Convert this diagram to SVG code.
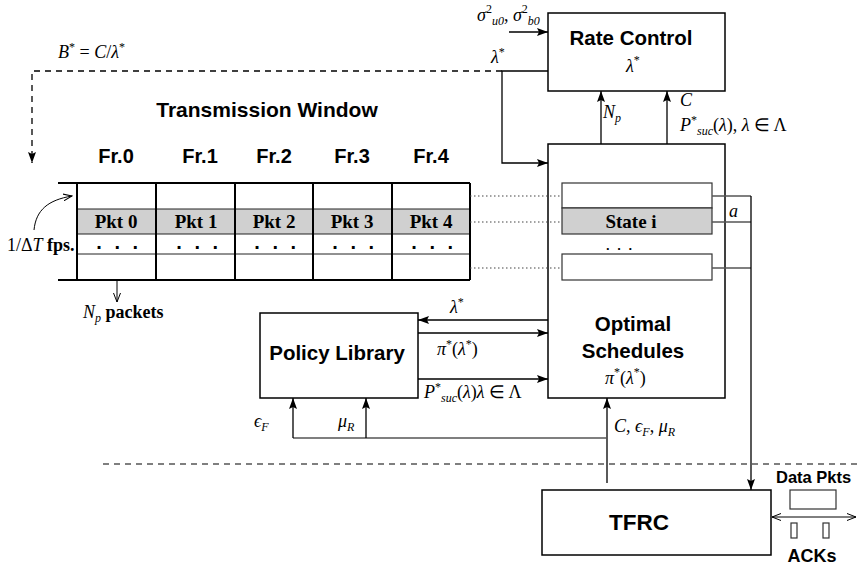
<svg xmlns="http://www.w3.org/2000/svg" width="857" height="565" viewBox="0 0 857 565">
<style>
  .box{fill:#fff;stroke:#000;stroke-width:1.5}
  .h{font-family:"Liberation Sans",Arial,Helvetica,sans-serif;font-weight:bold;fill:#000}
  .m{font-family:"Liberation Serif","Times New Roman",serif;font-style:italic;font-size:18px;fill:#000}
  .r{font-style:normal}
  .s{font-size:12px}
  .tb{font-family:"Liberation Serif","Times New Roman",serif;font-weight:bold;font-size:19px;fill:#000}
  .ln{fill:none;stroke:#000;stroke-width:1.3}
  .gl{fill:none;stroke:#555;stroke-width:1.3}
  .dot{fill:none;stroke:#444;stroke-width:1.2;stroke-dasharray:1.5 2.5}
  .grid{fill:none;stroke:#000;stroke-width:2}
  .row{fill:none;stroke:#222;stroke-width:1}
</style>
<defs>
  <marker id="arr" markerUnits="userSpaceOnUse" markerWidth="11" markerHeight="8" refX="11" refY="4" orient="auto">
    <path d="M0,0 L11,4 L0,8 L2,4 z" fill="#000"/>
  </marker>
  <marker id="open" markerUnits="userSpaceOnUse" markerWidth="10" markerHeight="8" refX="9" refY="4" orient="auto-start-reverse">
    <path d="M0,0.5 L9,4 L0,7.5" fill="none" stroke="#000" stroke-width="1"/>
  </marker>
</defs>

<!-- top-left label and window heading -->
<text class="m" x="58" y="58">B<tspan class="s r" dy="-7">*</tspan><tspan class="r" dy="7"> = </tspan>C<tspan class="r">/</tspan>λ<tspan class="s r" dy="-7">*</tspan></text>
<text class="h" x="267" y="117" font-size="21" text-anchor="middle">Transmission Window</text>

<!-- transmission window grid -->
<g id="transmission-window">
  <rect x="77" y="209" width="393" height="25" fill="#d0d0d0"/>
  <line class="row" x1="77" y1="209" x2="470" y2="209"/>
  <line class="row" x1="77" y1="234" x2="470" y2="234"/>
  <line class="row" x1="77" y1="254" x2="470" y2="254"/>
  <line class="grid" x1="58" y1="183" x2="470" y2="183"/>
  <line class="grid" x1="58" y1="280" x2="470" y2="280"/>
  <path class="grid" d="M77,183V280 M156,183V280 M235,183V280 M313,183V280 M392,183V280 M470,183V280"/>
  <g class="h" font-size="20" text-anchor="middle">
    <text x="116" y="163">Fr.0</text>
    <text x="200" y="163">Fr.1</text>
    <text x="274" y="163">Fr.2</text>
    <text x="352" y="163">Fr.3</text>
    <text x="431" y="163">Fr.4</text>
  </g>
  <g class="tb" text-anchor="middle">
    <text x="116" y="228">Pkt 0</text>
    <text x="196" y="228">Pkt 1</text>
    <text x="274" y="228">Pkt 2</text>
    <text x="352" y="228">Pkt 3</text>
    <text x="431" y="228">Pkt 4</text>
  </g>
  <g class="h" font-size="20" text-anchor="middle" letter-spacing="3.5">
    <text x="119" y="249">. . .</text>
    <text x="199" y="249">. . .</text>
    <text x="277" y="249">. . .</text>
    <text x="355" y="249">. . .</text>
    <text x="434" y="249">. . .</text>
  </g>
  <text class="m" x="7" y="251" font-size="20"><tspan class="r">1/Δ</tspan>T<tspan class="r" font-weight="bold" font-size="18"> fps.</tspan></text>
  <text class="m" x="83" y="318" font-size="19">N<tspan class="s" dy="4">p</tspan><tspan class="r" font-weight="bold" dy="-4"> packets</tspan></text>
</g>

<!-- rate control -->
<g id="rate-control">
  <rect class="box" x="548" y="13" width="177" height="78"/>
  <text class="h" x="631" y="45" font-size="20.5" text-anchor="middle">Rate Control</text>
  <text class="m" x="626" y="72" font-size="19">λ<tspan class="s r" dy="-8">*</tspan></text>
</g>

<!-- optimal schedules -->
<g id="optimal-schedules">
  <rect class="box" x="548" y="144" width="177" height="254"/>
  <rect x="562" y="183" width="150" height="25" fill="#fff" stroke="#333" stroke-width="1.2"/>
  <rect x="562" y="208" width="150" height="26" fill="#d0d0d0" stroke="#333" stroke-width="1.2"/>
  <rect x="562" y="254" width="150" height="26" fill="#fff" stroke="#333" stroke-width="1.2"/>
  <text class="tb" x="631" y="228" text-anchor="middle">State i</text>
  <text class="h" x="620" y="250" font-size="13" text-anchor="middle" letter-spacing="2">. . .</text>
  <text class="h" x="633" y="331" font-size="20.5" text-anchor="middle">Optimal</text>
  <text class="h" x="633" y="358" font-size="20.5" text-anchor="middle">Schedules</text>
  <text class="m" x="605" y="384" font-size="19">π<tspan class="s r" dy="-8">*</tspan><tspan class="r" dy="8">(</tspan>λ<tspan class="s r" dy="-8">*</tspan><tspan class="r" dy="8">)</tspan></text>
</g>

<!-- policy library -->
<g id="policy-library">
  <rect class="box" x="260" y="313" width="158" height="85"/>
  <text class="h" x="337" y="360" font-size="20.5" text-anchor="middle">Policy Library</text>
</g>

<!-- TFRC -->
<g id="tfrc">
  <rect class="box" x="542" y="490" width="229" height="65"/>
  <text class="h" x="639" y="530" font-size="22.5" text-anchor="middle">TFRC</text>
</g>

<!-- network side: data packets and acks -->
<g id="network">
  <text class="h" x="776" y="483" font-size="16.5">Data Pkts</text>
  <rect x="790" y="490" width="46" height="19" fill="#fff" stroke="#333" stroke-width="1.2"/>
  <rect x="791" y="523" width="6" height="15" fill="#fff" stroke="#333" stroke-width="1.2"/>
  <rect x="823" y="523" width="6" height="15" fill="#fff" stroke="#333" stroke-width="1.2"/>
  <text class="h" x="812" y="562" font-size="18" text-anchor="middle">ACKs</text>
</g>

<!-- connectors -->
<g id="connectors">
  <!-- rate control inputs/outputs -->
  <line class="ln" x1="509" y1="32" x2="548" y2="32" marker-end="url(#arr)"/>
  <path class="ln" d="M502,71 H32 V163" stroke-dasharray="6 5" marker-end="url(#arr)"/>
  <path class="ln" d="M548,71 H502 V163 H548" marker-end="url(#arr)"/>
  <line class="ln" x1="601" y1="144" x2="601" y2="91" marker-end="url(#arr)"/>
  <line class="ln" x1="667" y1="144" x2="667" y2="91" marker-end="url(#arr)"/>

  <!-- frame rate and packets per frame -->
  <path d="M34,230 C36,210 48,200 72,196" fill="none" stroke="#000" stroke-width="1" marker-end="url(#open)"/>
  <line x1="117" y1="280" x2="117" y2="302" stroke="#000" stroke-width="1" marker-end="url(#open)"/>

  <!-- window rows mapped to schedule states -->
  <line class="dot" x1="470" y1="196" x2="562" y2="196"/>
  <line class="dot" x1="470" y1="222" x2="562" y2="222"/>
  <line class="dot" x1="470" y1="268" x2="562" y2="268"/>

  <!-- chosen action down to TFRC -->
  <path class="gl" d="M712,196 H751 M712,222 H751 M712,268 H751"/>
  <line class="ln" x1="751" y1="196" x2="751" y2="490" marker-end="url(#arr)"/>

  <!-- policy library exchange -->
  <line class="ln" x1="548" y1="320" x2="418" y2="320" marker-end="url(#arr)"/>
  <line class="ln" x1="418" y1="333" x2="548" y2="333" marker-end="url(#arr)"/>
  <line class="ln" x1="418" y1="379" x2="548" y2="379" marker-end="url(#arr)"/>

  <!-- feedback from TFRC -->
  <line class="ln" x1="607" y1="483" x2="607" y2="398" marker-end="url(#arr)"/>
  <line class="gl" x1="293" y1="438" x2="607" y2="438"/>
  <line class="ln" x1="293" y1="438" x2="293" y2="398" marker-end="url(#arr)"/>
  <line class="ln" x1="366" y1="438" x2="366" y2="398" marker-end="url(#arr)"/>

  <!-- sender / receiver boundary -->
  <line x1="103" y1="464" x2="857" y2="464" stroke="#555" stroke-width="1.3" stroke-dasharray="6 5"/>

  <!-- data packets out, acks in -->
  <line x1="772" y1="517" x2="856" y2="517" stroke="#000" stroke-width="1" marker-start="url(#open)" marker-end="url(#open)"/>
</g>

<!-- connector labels -->
<g id="labels">
  <text class="m" x="477" y="21" font-size="17">σ<tspan class="s r" dy="-8">2</tspan><tspan class="s" dy="12">u0</tspan><tspan class="r" dy="-4">, </tspan>σ<tspan class="s r" dy="-8">2</tspan><tspan class="s" dy="12">b0</tspan></text>
  <text class="m" x="491" y="63">λ<tspan class="s r" dy="-7">*</tspan></text>
  <text class="m" x="603" y="118">N<tspan class="s" dy="4">p</tspan></text>
  <text class="m" x="680" y="106">C</text>
  <text class="m" x="680" y="131">P<tspan class="s r" dy="-7">*</tspan><tspan class="s" dy="11">suc</tspan><tspan class="r" dy="-4">(</tspan>λ<tspan class="r">), </tspan>λ<tspan class="r"> ∈ Λ</tspan></text>
  <text class="m" x="729" y="217">a</text>
  <text class="m" x="450" y="313">λ<tspan class="s r" dy="-7">*</tspan></text>
  <text class="m" x="437" y="355">π<tspan class="s r" dy="-7">*</tspan><tspan class="r" dy="7">(</tspan>λ<tspan class="s r" dy="-7">*</tspan><tspan class="r" dy="7">)</tspan></text>
  <text class="m" x="424" y="398">P<tspan class="s r" dy="-7">*</tspan><tspan class="s" dy="11">suc</tspan><tspan class="r" dy="-4">(</tspan>λ<tspan class="r">)</tspan>λ<tspan class="r"> ∈ Λ</tspan></text>
  <text class="m" x="254" y="427">ϵ<tspan class="s" dy="4">F</tspan></text>
  <text class="m" x="338" y="427">μ<tspan class="s" dy="4">R</tspan></text>
  <text class="m" x="614" y="432">C<tspan class="r">, </tspan>ϵ<tspan class="s" dy="4">F</tspan><tspan class="r" dy="-4">, </tspan>μ<tspan class="s" dy="4">R</tspan></text>
</g>
</svg>
